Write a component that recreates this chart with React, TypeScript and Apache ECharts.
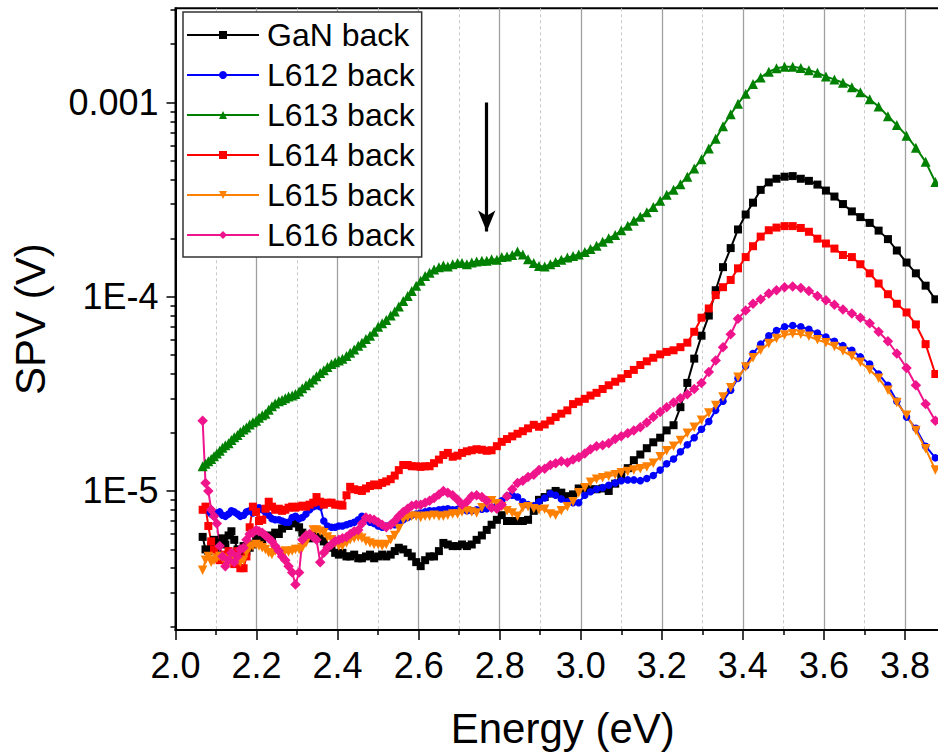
import { useEffect, useRef } from 'react';
import * as echarts from 'echarts';

// Photon energy grid (eV) of the SPV scans
const energyEv = [
  2.067, 2.074, 2.081, 2.088, 2.095, 2.102, 2.109, 2.116, 2.123, 2.131,
  2.138, 2.145, 2.153, 2.160, 2.168, 2.175, 2.183, 2.191, 2.199, 2.206,
  2.214, 2.222, 2.230, 2.238, 2.246, 2.255, 2.263, 2.271, 2.279, 2.288,
  2.296, 2.305, 2.313, 2.322, 2.331, 2.340, 2.348, 2.357, 2.366, 2.375,
  2.385, 2.394, 2.403, 2.412, 2.422, 2.431, 2.441, 2.451, 2.460, 2.470,
  2.480, 2.490, 2.500, 2.510, 2.520, 2.531, 2.541, 2.551, 2.562, 2.573,
  2.583, 2.594, 2.605, 2.616, 2.627, 2.638, 2.650, 2.661, 2.672, 2.684,
  2.696, 2.707, 2.719, 2.731, 2.743, 2.756, 2.768, 2.780, 2.793, 2.805,
  2.818, 2.831, 2.844, 2.857, 2.870, 2.884, 2.897, 2.911, 2.925, 2.938,
  2.952, 2.967, 2.981, 2.995, 3.010, 3.024, 3.039, 3.054, 3.069, 3.085,
  3.100, 3.116, 3.131, 3.147, 3.163, 3.179, 3.196, 3.212, 3.229, 3.246,
  3.263, 3.280, 3.298, 3.316, 3.333, 3.351, 3.370, 3.388, 3.407, 3.425,
  3.444, 3.464, 3.483, 3.503, 3.523, 3.543, 3.563, 3.584, 3.605, 3.626,
  3.647, 3.669, 3.690, 3.713, 3.735, 3.758, 3.780, 3.804, 3.827, 3.851,
  3.875,
];

// SPV signals in microvolts
const ganBack = [
  5.8, 5.0, 4.9, 5.2, 5.6, 5.1, 5.4, 5.7, 5.3, 5.9,
  6.2, 5.6, 5.0, 4.8, 5.2, 4.9, 5.1, 5.3, 5.6, 5.7,
  5.6, 5.8, 5.9, 5.8, 6.1, 6.0, 6.4, 6.7, 6.6, 6.9,
  6.8, 6.5, 6.1, 5.9, 5.7, 5.9, 5.8, 5.7, 5.5, 5.2,
  5.1, 4.8, 4.7, 4.8, 4.6, 4.6, 4.7, 4.5, 4.5, 4.6,
  4.7, 4.5, 4.6, 4.7, 4.6, 4.7, 4.9, 5.1, 5.0, 4.8,
  4.6, 4.3, 4.1, 4.4, 4.6, 4.6, 4.9, 5.4, 5.3, 5.2,
  5.2, 5.3, 5.2, 5.3, 5.6, 5.9, 6.3, 6.7, 7.1, 7.5,
  7.0, 7.0, 7.0, 7.0, 7.1, 7.9, 9.0, 9.3, 9.7, 10.0,
  9.8, 9.4, 9.6, 10.3, 10.3, 10.2, 10.2, 10.3, 10.0, 10.9,
  11.9, 13.1, 14.4, 15.4, 16.6, 17.8, 18.8, 20.5, 21.8, 27,
  36, 48, 63, 80, 108, 142, 178, 222, 265, 305,
  355, 388, 405, 415, 418, 405, 395, 378, 352, 328,
  300, 275, 257, 240, 219, 198, 173, 150, 132, 114,
  97,
];

const l612Back = [
  8.0, 8.3, 7.9, 7.6, 7.4, 7.7, 7.8, 7.5, 7.4, 7.6,
  7.9, 7.8, 7.6, 7.4, 7.5, 7.8, 7.9, 7.7, 8.1, 8.2,
  8.0, 7.8, 7.5, 7.2, 7.1, 7.1, 7.0, 6.9, 6.9, 7.3,
  7.4, 7.2, 7.3, 7.6, 8.0, 8.3, 8.4, 8.3, 7.0, 6.6,
  6.5, 6.5, 6.6, 6.6, 6.7, 6.8, 6.9, 7.1, 7.4, 7.2,
  6.9, 6.8, 6.6, 6.5, 6.6, 6.7, 6.7, 6.9, 7.1, 7.3,
  7.5, 7.6, 7.7, 7.8, 7.9, 7.9, 8.0, 8.05, 8.1, 8.0,
  8.05, 8.0, 7.9, 7.9, 8.0, 8.05, 8.1, 8.2, 8.4, 8.9,
  9.4, 9.5, 9.3, 8.8, 8.5, 8.4, 8.8, 9.2, 9.7, 9.5,
  9.1, 8.8, 8.7, 8.7, 9.5, 9.9, 10.2, 10.4, 10.7, 11.0,
  11.3, 11.4, 11.4, 11.3, 11.6, 12.0, 12.8, 13.8, 14.6, 15.9,
  17.3, 18.8, 20.8, 22.8, 26.0, 29.0, 33, 38, 44, 51,
  57, 63, 67, 70, 71, 70, 68, 65, 62, 59,
  56, 53, 49, 45, 40, 35, 29, 24, 21, 17,
  14.8,
];

const l613Back = [
  13.4, 13.8, 14.2, 14.6, 15.1, 15.6, 16.1, 16.7, 17.2, 17.6,
  18.3, 18.9, 19.4, 20.1, 20.7, 21.2, 22.0, 22.6, 23.0, 23.8,
  24.5, 25.0, 26.2, 27.3, 28.2, 29.0, 29.4, 30.0, 30.6, 31.0,
  31.6, 32.5, 33.8, 35.0, 36.2, 37.5, 39.0, 40.5, 41.8, 43.5,
  45.0, 46.0, 47.0, 48.0, 49.5, 51.5, 53.5, 56, 58, 60.5,
  63, 66, 70, 73, 76, 80, 84, 89, 95, 101,
  107, 114, 121, 128, 133, 138, 142, 145, 143, 147,
  149, 149, 147, 150, 152, 153, 153, 156, 155, 160,
  161, 164, 171, 165, 156, 149, 144, 143, 147, 151,
  155, 159, 162, 165, 170, 176, 183, 192, 200, 208,
  220, 232, 246, 258, 272, 290, 312, 335, 355, 380,
  415, 458, 510, 580, 650, 755, 870, 985, 1110, 1245,
  1345, 1440, 1500, 1530, 1530, 1505, 1465, 1425, 1360, 1315,
  1265, 1200, 1130, 1040, 955, 850, 765, 675, 585, 495,
  390,
];

const l614Back = [
  8.0, 8.3, 6.6, 5.5, 5.0, 4.5, 4.4, 4.6, 4.7, 4.9,
  4.4, 4.2, 4.9, 4.0, 4.0, 4.6, 6.5, 8.3, 7.8, 7.0,
  7.1, 8.1, 8.8, 8.3, 8.0, 8.1, 7.9, 8.0, 8.2, 8.3,
  8.2, 8.3, 8.4, 8.3, 8.5, 8.7, 9.3, 8.8, 8.5, 8.7,
  8.7, 8.5, 8.5, 8.4, 9.5, 10.5, 10.2, 10.1, 10.0, 10.3,
  10.6, 10.8, 10.7, 11.0, 11.2, 11.5, 12.0, 12.8, 13.6, 13.6,
  13.4, 13.4, 13.3, 13.4, 13.4, 13.9, 14.5, 15.3, 15.7, 15.0,
  15.2, 15.7, 16.0, 16.2, 16.4, 16.3, 16.1, 16.2, 17.0, 17.9,
  18.5, 19.1, 19.7, 20.3, 21.0, 21.9, 21.4, 22.0, 23.0, 24.0,
  25.0, 26.0, 28.0, 28.8, 29.8, 31.0, 32.0, 33.5, 35.0, 36.5,
  38, 40, 42, 44.5, 46.5, 48.5, 50.5, 52, 53, 55,
  58, 66, 78, 87, 102, 112, 122, 140, 160, 182,
  204, 220, 227, 231, 231, 226, 216, 199, 188, 177,
  164, 160, 147, 132, 117, 103, 92, 83, 72, 57,
  40,
];

const l615Back = [
  3.9, 4.4, 4.6, 4.3, 4.4, 4.5, 4.6, 4.5, 4.4, 4.3,
  4.4, 4.5, 4.4, 4.3, 4.4, 4.8, 5.1, 5.2, 5.3, 5.2,
  5.1, 5.0, 4.8, 4.7, 4.9, 4.85, 4.8, 4.9, 4.85, 4.9,
  5.0, 5.0, 5.1, 5.4, 5.9, 6.3, 6.3, 6.2, 6.1, 5.8,
  5.6, 5.4, 5.2, 5.2, 5.4, 5.6, 5.7, 5.8, 5.7, 5.5,
  5.4, 5.3, 5.3, 5.2, 5.3, 5.6, 5.9, 6.4, 7.1, 7.3,
  7.4, 7.4, 7.3, 7.4, 7.4, 7.5, 7.4, 7.4, 7.5, 7.6,
  7.6, 7.8, 7.9, 7.8, 7.7, 8.2, 8.6, 8.9, 8.6, 8.3,
  7.9, 7.7, 7.4, 8.2, 8.3, 8.1, 8.0, 8.05, 7.6, 7.5,
  7.9, 8.3, 8.8, 9.8, 10.4, 11.1, 11.5, 11.7, 11.9, 12.1,
  12.4, 12.6, 12.8, 13.0, 13.3, 13.9, 15.0, 16.1, 17.0, 18.2,
  19.8, 21.3, 23.1, 25.2, 27.5, 30.5, 34, 38.5, 43.5, 48.5,
  53, 57.5, 61, 63.5, 64.5, 64, 62.5, 60, 58, 55.5,
  52.5, 49.5, 46, 42, 38, 33, 28.5, 24.5, 20.5, 16.5,
  12.8,
];

const l616Back = [
  23, 11, 10, 8.0, 7.4, 6.8, 5.2, 4.6, 4.1, 4.4,
  4.8, 4.3, 4.6, 5.0, 5.1, 5.6, 6.0, 6.1, 6.3, 6.2,
  6.1, 5.9, 5.7, 5.5, 5.2, 4.9, 4.6, 4.4, 4.1, 3.8,
  3.3, 3.8, 5.6, 5.9, 6.0, 5.8, 5.6, 4.3, 4.8, 5.1,
  5.3, 5.5, 5.6, 5.7, 5.8, 6.0, 6.2, 6.3, 6.8, 7.3,
  7.2, 7.1, 6.9, 6.7, 6.5, 6.7, 7.0, 7.4, 7.8, 8.1,
  8.4, 8.5, 8.5, 8.7, 8.9, 9.2, 9.6, 10.0, 9.8, 9.5,
  9.0, 8.5, 8.8, 9.4, 9.5, 9.3, 8.9, 8.2, 8.1, 8.5,
  9.4, 10.2, 11.0, 11.3, 11.8, 12.1, 12.8, 13.0, 13.6, 13.9,
  14.2, 14.0, 14.5, 14.9, 15.6, 16.4, 17.0, 17.2, 17.6, 18.5,
  19.1, 19.8, 20.5, 21.3, 22.5, 24.0, 25.5, 27.0, 28.5, 30.0,
  31.5, 33.5, 36, 41, 47, 55, 64, 77, 85, 92,
  97, 104, 108, 112, 113, 111, 107, 101, 96, 91,
  86, 82, 78, 73, 66, 59, 51, 43, 35, 28,
  23,
];

const seriesNames = ['GaN back', 'L612 back', 'L613 back', 'L614 back', 'L615 back', 'L616 back'];
const seriesValues = [ganBack, l612Back, l613Back, l614Back, l615Back, l616Back];
const seriesColors = ['#000000', '#0000FF', '#008000', '#FF0000', '#FF8000', '#F0148C'];
const seriesSymbols = ['rect', 'circle', 'triangle', 'rect', 'path://M0,0L10,0L5,8.66Z', 'diamond'];
const seriesSymbolSizes = [8, 7.5, 10, 8, 9.5, 10.5];

// Axis ranges
const energyMin = 2.0;
const energyMax = 4.0;
const energyStep = 0.2;
const spvMin = 1.923e-6;
const spvMax = 3.056e-3;

// Decade ticks and their labels on the SPV axis
const spvDecades = [1e-5, 1e-4, 1e-3];
const spvDecadeLabels = ['1E-5', '1E-4', '0.001'];
const spvMinorTicks = [
  2e-6, 3e-6, 4e-6, 5e-6, 6e-6, 7e-6, 8e-6, 9e-6,
  2e-5, 3e-5, 4e-5, 5e-5, 6e-5, 7e-5, 8e-5, 9e-5,
  2e-4, 3e-4, 4e-4, 5e-4, 6e-4, 7e-4, 8e-4, 9e-4,
  2e-3, 3e-3,
];

// Annotation arrow (energy eV, SPV V)
const arrowTail = [2.768, 1.0e-3];
const arrowHead = [2.768, 2.17e-4];

const FONT = "'Liberation Sans', Arial, Helvetica, sans-serif";

export default function App() {
  const ref = useRef<HTMLDivElement>(null);

  useEffect(() => {
    if (!ref.current) return;
    const chart = echarts.init(ref.current, undefined, { renderer: 'svg' });

    const lg = (v: number) => Math.log10(v);
    const decadeLogs = spvDecades.map((v) => Math.round(lg(v)));

    const series: any[] = seriesNames.map((name, s) => ({
      name,
      type: 'line',
      data: energyEv.map((e, i) => [e, lg(seriesValues[s][i] * 1e-6)]),
      symbol: seriesSymbols[s],
      symbolSize: seriesSymbolSizes[s],
      showSymbol: true,
      lineStyle: { color: seriesColors[s], width: 2 },
      itemStyle: { color: seriesColors[s] },
      emphasis: { disabled: true },
      silent: true,
    }));

    series[series.length - 1].markLine = {
      silent: true,
      symbol: ['none', 'arrow'],
      symbolSize: [13, 21],
      label: { show: false },
      emphasis: { disabled: true },
      lineStyle: { color: '#000', width: 3.2, type: 'solid' },
      data: [
        [
          { coord: [arrowTail[0], lg(arrowTail[1])] },
          { coord: [arrowHead[0], lg(arrowHead[1])] },
        ],
      ],
    };

    chart.setOption({
      animation: false,
      textStyle: { fontFamily: FONT },
      grid: {
        left: 175.5,
        right: 0,
        top: 8.3,
        bottom: 123,
        show: true,
        borderColor: '#000',
        borderWidth: 2,
        backgroundColor: 'transparent',
      },
      legend: {
        data: seriesNames,
        orient: 'vertical',
        align: 'left',
        left: 183,
        top: 12,
        itemWidth: 72,
        itemHeight: 10,
        itemGap: 0,
        padding: [3, 7, 2, 3],
        backgroundColor: '#fff',
        borderColor: '#333',
        borderWidth: 1.5,
        selectedMode: false,
        textStyle: {
          fontFamily: FONT,
          fontSize: 32,
          lineHeight: 40,
          color: '#000',
          padding: [0, 0, 0, 3],
        },
      },
      xAxis: {
        type: 'value',
        min: energyMin,
        max: energyMax,
        interval: energyStep,
        name: 'Energy (eV)',
        nameLocation: 'middle',
        nameGap: 77,
        nameTextStyle: { fontFamily: FONT, fontSize: 42, color: '#000', padding: [0, 36, 0, 0] },
        axisLine: { show: true, onZero: false, lineStyle: { color: '#000', width: 2 } },
        axisTick: { show: true, inside: false, length: 10, lineStyle: { color: '#000', width: 1.5 } },
        minorTick: { show: true, splitNumber: 2, length: 5, lineStyle: { color: '#000', width: 1.5 } },
        axisLabel: {
          fontFamily: FONT,
          fontSize: 36,
          color: '#000',
          margin: 17,
          showMaxLabel: false,
          formatter: (v: number) => v.toFixed(1),
        },
        splitLine: { show: true, lineStyle: { color: '#a0a0a0', width: 1.3 } },
        minorSplitLine: { show: true, lineStyle: { color: '#c8c8c8', width: 1, type: [3, 3] } },
      },
      yAxis: [
        {
          type: 'value',
          position: 'left',
          min: lg(spvMin),
          max: lg(spvMax),
          name: 'SPV (V)',
          nameLocation: 'middle',
          nameRotate: 90,
          nameGap: 124,
          nameTextStyle: { fontFamily: FONT, fontSize: 42, color: '#000' },
          axisLine: { show: true, lineStyle: { color: '#000', width: 2 } },
          axisTick: {
            show: true,
            inside: false,
            length: 9,
            customValues: decadeLogs,
            lineStyle: { color: '#000', width: 1.5 },
          },
          axisLabel: {
            customValues: decadeLogs,
            fontFamily: FONT,
            fontSize: 36,
            color: '#000',
            margin: 17,
            formatter: (v: number) => {
              const k = decadeLogs.indexOf(Math.round(v));
              return k >= 0 ? spvDecadeLabels[k] : '';
            },
          },
          splitLine: { show: false },
        },
        {
          type: 'value',
          position: 'left',
          min: lg(spvMin),
          max: lg(spvMax),
          axisLine: { show: false },
          axisTick: {
            show: true,
            inside: false,
            length: 5,
            customValues: spvMinorTicks.map(lg),
            lineStyle: { color: '#000', width: 1.5 },
          },
          axisLabel: { show: false },
          splitLine: { show: false },
        },
      ],
      series,
    });

    return () => {
      chart.dispose();
    };
  }, []);

  return (
    <div
      style={{
        position: 'absolute',
        left: 0,
        top: 0,
        width: 938,
        height: 754,
        overflow: 'hidden',
        background: '#fff',
      }}
    >
      <div ref={ref} style={{ width: 986, height: 754 }} />
    </div>
  );
}
